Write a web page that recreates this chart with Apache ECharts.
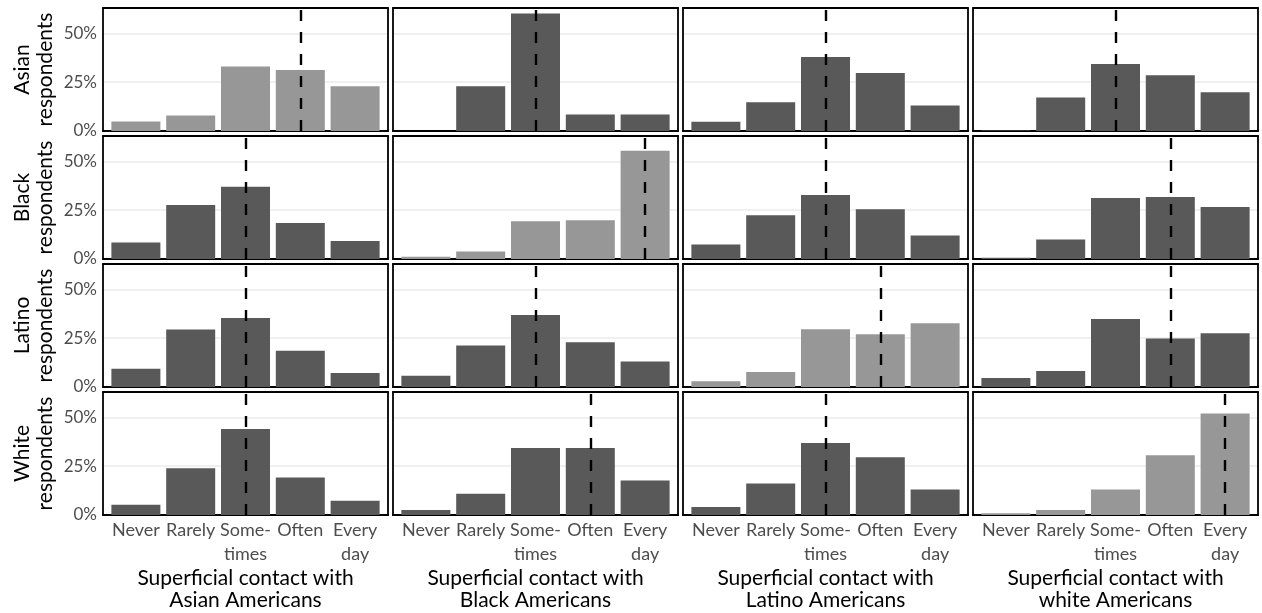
<!DOCTYPE html>
<html>
<head>
<meta charset="utf-8">
<script src="https://cdn.jsdelivr.net/npm/echarts@6/dist/echarts.min.js"></script>
<style>
html,body{margin:0;padding:0;background:#fff;}
#chart{width:1262px;height:613px;}
</style>
</head>
<body>
<div id="chart"></div>
<script>
const categories = ['Never', 'Rarely', 'Some-\ntimes', 'Often', 'Every\nday'];
const respondentGroups = ['Asian\nrespondents', 'Black\nrespondents', 'Latino\nrespondents', 'White\nrespondents'];
const contactGroups = [
  'Superficial contact with\nAsian Americans',
  'Superficial contact with\nBlack Americans',
  'Superficial contact with\nLatino Americans',
  'Superficial contact with\nwhite Americans'
];
const yTicks = [0, 25, 50];

// percentages per contact group (columns), one array per respondent group (rows)
const asianRespondents = [
  [4.9, 8.0, 33.0, 31.3, 22.9],
  [0.0, 22.9, 60.2, 8.4, 8.4],
  [4.8, 14.7, 37.9, 29.7, 13.1],
  [0.2, 17.2, 34.3, 28.6, 19.8]
];
const blackRespondents = [
  [8.5, 27.7, 37.0, 18.4, 9.2],
  [1.2, 3.8, 19.3, 19.8, 55.5],
  [7.4, 22.4, 32.8, 25.5, 12.1],
  [0.7, 10.0, 31.2, 31.7, 26.6]
];
const latinoRespondents = [
  [9.3, 29.5, 35.3, 18.6, 7.2],
  [5.7, 21.3, 36.9, 22.9, 13.0],
  [3.0, 7.7, 29.6, 27.0, 32.7],
  [4.6, 8.2, 34.8, 24.9, 27.5]
];
const whiteRespondents = [
  [5.2, 23.9, 44.1, 19.2, 7.3],
  [2.5, 10.9, 34.3, 34.3, 17.7],
  [4.1, 16.1, 36.9, 29.6, 13.0],
  [0.9, 2.5, 13.0, 30.6, 52.0]
];
// median category (1 = Never ... 5 = Every day)
const asianMedians = [4, 3, 3, 3];
const blackMedians = [3, 5, 3, 4];
const latinoMedians = [3, 3, 4, 4];
const whiteMedians = [3, 4, 3, 5];

const rowsData = [asianRespondents, blackRespondents, latinoRespondents, whiteRespondents];
const rowsMedians = [asianMedians, blackMedians, latinoMedians, whiteMedians];

const FONT = 'Lato';
const colLeft = [103, 393, 683, 973];
const rowTop = [8, 136, 264, 392];
const panelW = 285;
const panelH = 123;
const frame = { show: true, onZero: false, lineStyle: { color: '#000', width: 1.8 } };

const grids = [], xAxes = [], yAxes = [], series = [];
let idx = 0;
for (let r = 0; r < 4; r++) {
  for (let c = 0; c < 4; c++) {
    grids.push({
      left: colLeft[c], top: rowTop[r], width: panelW, height: panelH,
      show: false
    });
    const bottom = r === 3;
    const xMain = xAxes.length;
    xAxes.push({
      gridIndex: idx, type: 'value', min: 0.4, max: 5.6, position: 'bottom',
      axisLine: { show: true, onZero: false, lineStyle: { color: '#000', width: 2.2 } },
      axisTick: { show: false },
      splitLine: { show: false },
      axisLabel: {
        show: bottom, customValues: [1, 2, 3, 4, 5],
        formatter: v => categories[Math.round(v) - 1] || '',
        color: '#4D4D4D', fontFamily: FONT, fontSize: 18, lineHeight: 24, margin: 3
      },
      name: bottom ? contactGroups[c] : '',
      nameLocation: 'middle', nameGap: 52,
      nameTextStyle: { color: '#000', fontFamily: FONT, fontSize: 21, lineHeight: 22 }
    });
    xAxes.push({
      gridIndex: idx, type: 'value', min: 0.4, max: 5.6, position: 'top',
      axisLine: frame, axisTick: { show: false }, axisLabel: { show: false },
      splitLine: { show: false }
    });
    const yMain = yAxes.length;
    yAxes.push({
      gridIndex: idx, type: 'value', min: 0, max: 63, interval: 25, position: 'left',
      axisLine: frame, axisTick: { show: false },
      splitLine: { show: true, lineStyle: { color: '#EBEBEB', width: 1.5 } },
      axisLabel: {
        show: c === 0, formatter: '{value}%', color: '#4D4D4D',
        fontFamily: FONT, fontSize: 17, margin: 6,
        customValues: yTicks
      },
      name: c === 0 ? respondentGroups[r] : '',
      nameLocation: 'middle', nameRotate: 90, nameGap: 46,
      nameTextStyle: { color: '#000', fontFamily: FONT, fontSize: 21, lineHeight: 23 }
    });
    yAxes.push({
      gridIndex: idx, type: 'value', min: 0, max: 63, interval: 25, position: 'right',
      axisLine: frame, axisTick: { show: false }, axisLabel: { show: false },
      splitLine: { show: false }
    });
    const vals = rowsData[r][c];
    const highlight = r === c;
    series.push({
      type: 'bar', xAxisIndex: xMain, yAxisIndex: yMain,
      data: vals.map((v, i) => [i + 1, v]),
      barWidth: 49,
      itemStyle: { color: highlight ? '#979797' : '#595959' },
      silent: true,
      markLine: {
        silent: true, symbol: 'none', animation: false,
        label: { show: false },
        lineStyle: { color: '#000', type: [11, 11], width: 2.4 },
        data: [{ xAxis: rowsMedians[r][c] }]
      }
    });
    idx++;
  }
}

const chart = echarts.init(document.getElementById('chart'), null, { renderer: 'canvas' });
chart.setOption({
  animation: false,
  backgroundColor: '#fff',
  grid: grids, xAxis: xAxes, yAxis: yAxes, series: series
});
</script>
</body>
</html>
